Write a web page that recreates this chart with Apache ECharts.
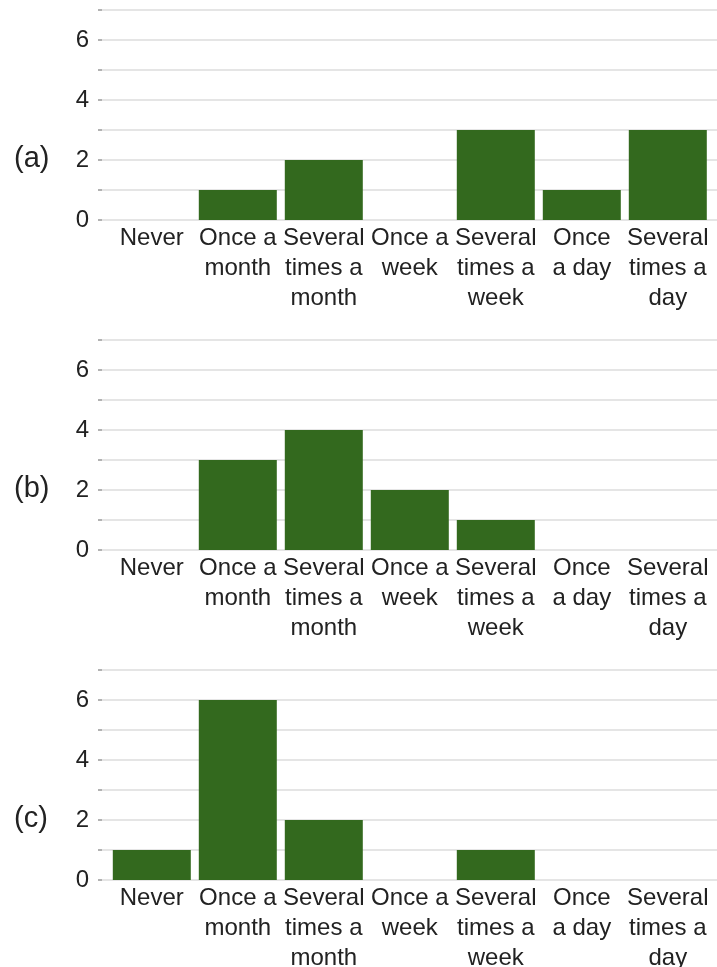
<!DOCTYPE html>
<html>
<head>
<meta charset="utf-8">
<style>html,body{margin:0;padding:0;background:#fff;}#c{width:717px;height:967px;}</style>
<script src="https://cdn.jsdelivr.net/npm/echarts@6/dist/echarts.min.js"></script>
</head>
<body>
<div id="c"></div>
<script>
const categories = ['Never\n', 'Once a\nmonth', 'Several\ntimes a\nmonth', 'Once a\nweek', 'Several\ntimes a\nweek', 'Once\na day', 'Several\ntimes a\nday'];
const panelLabels = ['(a)', '(b)', '(c)'];
const valuesA = [0, 1, 2, 0, 3, 1, 3];
const valuesB = [0, 3, 4, 2, 1, 0, 0];
const valuesC = [1, 6, 2, 0, 1, 0, 0];
const yTicks = [0, 2, 4, 6];
const yMax = 7;

const panels = [valuesA, valuesB, valuesC];
const tops = [10, 340, 670];
const plotH = 210;
const font = '"Liberation Sans", Arial, sans-serif';

const grid = [], xAxis = [], yAxis = [], series = [], graphic = [];
panels.forEach((vals, i) => {
  const top = tops[i];
  grid.push({left: 102, right: 0, top: top, height: plotH, containLabel: false, outerBoundsMode: 'none'});
  grid.push({left: 108.8, right: 6.2, top: top, height: plotH, containLabel: false, outerBoundsMode: 'none'});
  const g0 = 2 * i, g1 = 2 * i + 1;
  xAxis.push({gridIndex: g0, type: 'value', min: 0, max: 1, show: false});
  xAxis.push({
    gridIndex: g1, type: 'category', data: categories,
    axisLine: {show: false}, axisTick: {show: false},
    axisLabel: {interval: 0, margin: 3, fontSize: 24, lineHeight: 30, color: '#222', fontFamily: font, verticalAlign: 'top'}
  });
  yAxis.push({
    gridIndex: g0, type: 'value', min: 0, max: yMax, interval: 1,
    axisLine: {show: false},
    axisTick: {show: true, length: 4, lineStyle: {color: '#999', width: 1.5}},
    axisLabel: {margin: 13, fontSize: 24, color: '#222', fontFamily: font,
      formatter: v => yTicks.indexOf(v) >= 0 ? String(v) : ''},
    splitLine: {show: true, lineStyle: {color: '#dcdcdc', width: 1.5}}
  });
  yAxis.push({gridIndex: g1, type: 'value', min: 0, max: yMax, interval: 1, show: false, splitLine: {show: false}});
  series.push({
    type: 'bar', xAxisIndex: g1, yAxisIndex: g1, data: vals, barWidth: 78,
    itemStyle: {color: '#33691e', borderWidth: 0},
    silent: true
  });
  graphic.push({
    type: 'text', left: 14, top: top + 134,
    style: {text: panelLabels[i], font: '29px ' + font, fill: '#222'}
  });
});

const chart = echarts.init(document.getElementById('c'), null, {renderer: 'canvas'});
chart.setOption({
  animation: false,
  backgroundColor: '#fff',
  grid, xAxis, yAxis, series, graphic
});
</script>
</body>
</html>
